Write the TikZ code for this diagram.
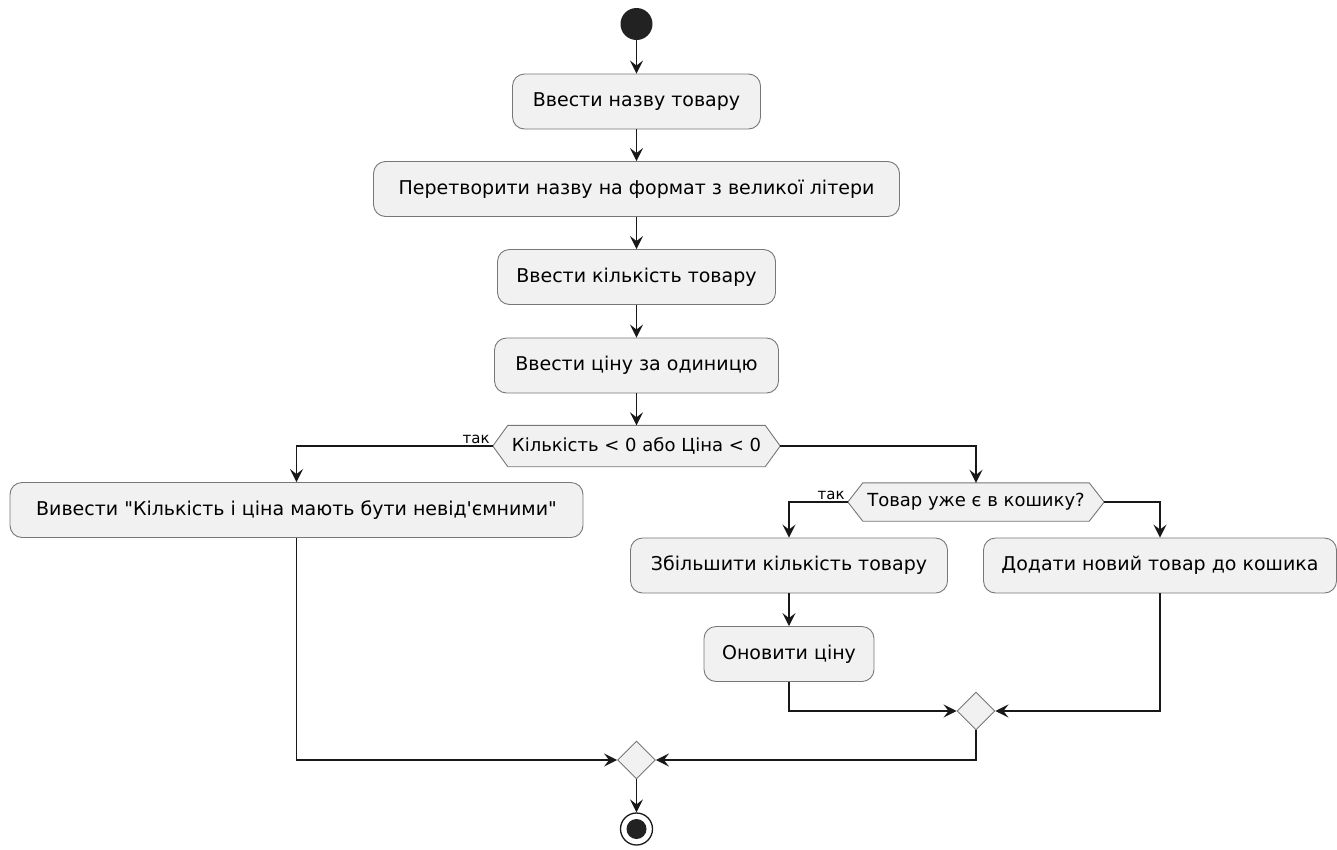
\documentclass[tikz,border=0pt]{standalone}
\usepackage{fontspec}
\setmainfont{DejaVu Sans}
\usetikzlibrary{arrows.meta,shapes.geometric,backgrounds}
\definecolor{fillc}{HTML}{F1F1F1}
\definecolor{linec}{HTML}{181818}
\definecolor{borderc}{HTML}{777777}
\definecolor{startc}{HTML}{222222}
\begin{document}
\begin{tikzpicture}[x=1pt,y=-1pt,
  act/.style={draw=borderc, line width=0.9pt, fill=fillc, rounded corners=12pt, minimum height=55pt, inner sep=0pt, font=\fontsize{19}{22}\selectfont},
  arr/.style={draw=linec, line width=1.3pt, -{Stealth[length=13pt,width=13pt,inset=5pt]}},
  hexs/.style={draw=borderc, line width=0.9pt, fill=fillc},
  merge/.style={diamond, aspect=1, draw=borderc, line width=0.9pt, fill=fillc, minimum width=38pt, minimum height=38pt, inner sep=0pt},
  cond/.style={inner sep=0pt, font=\fontsize{18}{21}\selectfont},
  lbl/.style={font=\fontsize{15}{17}\selectfont, inner sep=1pt}]
\useasboundingbox (0,0) rectangle (1337,849);

\node[circle, fill=startc, minimum size=32pt, inner sep=0pt] (start) at (636.5,24) {};
\node[act, minimum width=248pt] (b1) at (636.5,101.5) {Ввести назву товару};
\node[act, minimum width=526pt] (b2) at (636.5,189) {Перетворити назву на формат з великої літери};
\node[act, minimum width=278pt] (b3) at (636.5,277) {Ввести кількість товару};
\node[act, minimum width=284pt] (b4) at (636.5,365.5) {Ввести ціну за одиницю};

\node[cond, minimum width=287pt, minimum height=41pt] (d1) at (636.5,446) {Кількість < 0 або Ціна < 0};
\begin{pgfonlayer}{background}
\draw[hexs] (d1.west) -- ([xshift=15pt]d1.north west) -- ([xshift=-15pt]d1.north east) -- (d1.east) -- ([xshift=-15pt]d1.south east) -- ([xshift=15pt]d1.south west) -- cycle;
\end{pgfonlayer}
\node[lbl, anchor=south east] (t1) at ([xshift=-2pt,yshift=1pt]d1.west) {так};

\node[act, minimum width=573pt] (b5) at (296.5,510) {Вивести \textquotedbl Кількість і ціна мають бути невід\textquotesingle ємними\textquotedbl};

\node[cond, minimum width=256pt, minimum height=38pt] (d2) at (976,502) {Товар уже є в кошику?};
\begin{pgfonlayer}{background}
\draw[hexs] (d2.west) -- ([xshift=15pt]d2.north west) -- ([xshift=-15pt]d2.north east) -- (d2.east) -- ([xshift=-15pt]d2.south east) -- ([xshift=15pt]d2.south west) -- cycle;
\end{pgfonlayer}
\node[lbl, anchor=south east] (t2) at ([xshift=-2pt,yshift=1pt]d2.west) {так};

\node[act, minimum width=317pt] (b6) at (789,565.5) {Збільшити кількість товару};
\node[act, minimum width=170pt] (b7) at (789,654) {Оновити ціну};
\node[act, minimum width=353pt] (b8) at (1160,565.5) {Додати новий товар до кошика};

\node[merge] (m2) at (976,711) {};
\node[merge] (m1) at (636.5,760) {};

\node[circle, draw=linec, line width=1.3pt, fill=white, minimum size=32pt, inner sep=0pt] (end) at (636.5,829) {};
\fill[startc] (end.center) circle (10pt);

\draw[arr] (start) -- (b1);
\draw[arr] (b1) -- (b2);
\draw[arr] (b2) -- (b3);
\draw[arr] (b3) -- (b4);
\draw[arr] (b4) -- (d1.north);
\draw[arr] (d1.west) -| (b5.north);
\draw[arr] (d1.east) -| (d2.north);
\draw[arr] (d2.west) -| (b6.north);
\draw[arr] (d2.east) -| (b8.north);
\draw[arr] (b6) -- (b7);
\draw[arr] (b7.south) |- (m2.west);
\draw[arr] (b8.south) |- (m2.east);
\draw[arr] (b5.south) |- (m1.west);
\draw[arr] (m2.south) |- (m1.east);
\draw[arr] (m1) -- (end);
\end{tikzpicture}
\end{document}
